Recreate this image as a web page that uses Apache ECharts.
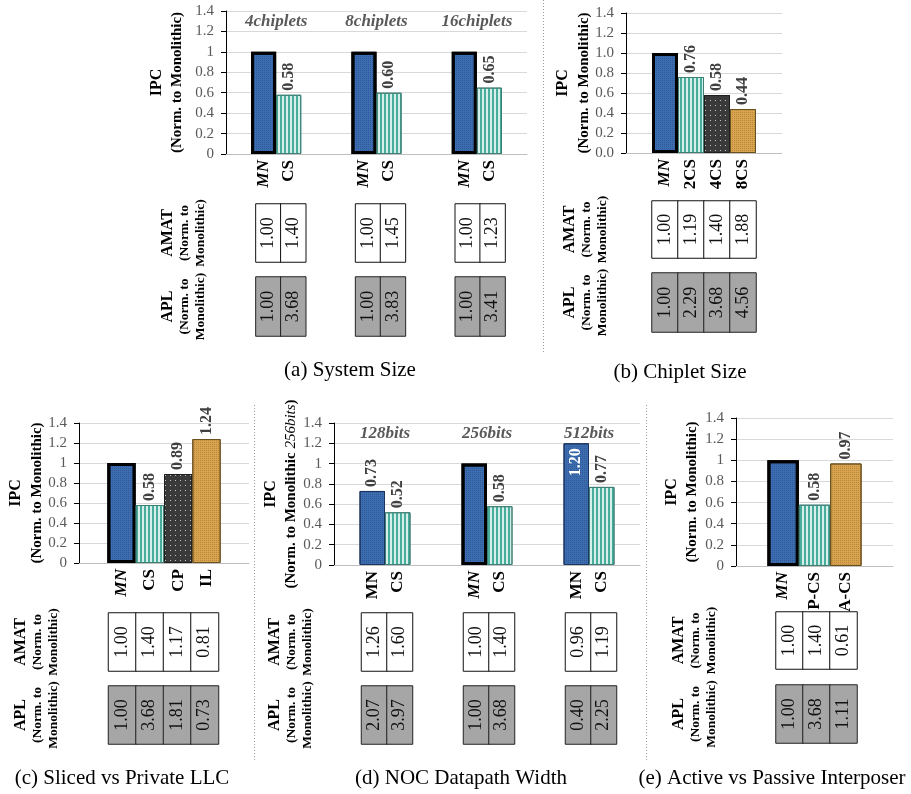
<!DOCTYPE html>
<html><head><meta charset="utf-8">
<script src="https://cdn.jsdelivr.net/npm/echarts@6/dist/echarts.min.js"></script>
<style>html,body{margin:0;padding:0;background:#fff}#c{width:911px;height:794px}</style>
</head><body><div id="c"></div>
<script>
const FONT = '"Liberation Serif","Times New Roman",serif';

// ---------------- data ----------------
const yMin = 0, yMax = 1.4, yStep = 0.2;

const aGroups = ['4chiplets', '8chiplets', '16chiplets'];
const aBars = ['MN', 'CS'];
const aIPC  = [[1.00, 0.58], [1.00, 0.60], [1.00, 0.65]];
const aAMAT = [[1.00, 1.40], [1.00, 1.45], [1.00, 1.23]];
const aAPL  = [[1.00, 3.68], [1.00, 3.83], [1.00, 3.41]];

const bGroups = [''];
const bBars = ['MN', '2CS', '4CS', '8CS'];
const bIPC  = [[1.00, 0.76, 0.58, 0.44]];
const bAMAT = [[1.00, 1.19, 1.40, 1.88]];
const bAPL  = [[1.00, 2.29, 3.68, 4.56]];

const cGroups = [''];
const cBars = ['MN', 'CS', 'CP', 'IL'];
const cIPC  = [[1.00, 0.58, 0.89, 1.24]];
const cAMAT = [[1.00, 1.40, 1.17, 0.81]];
const cAPL  = [[1.00, 3.68, 1.81, 0.73]];

const dGroups = ['128bits', '256bits', '512bits'];
const dBars = ['MN', 'CS'];
const dIPC  = [[0.73, 0.52], [1.00, 0.58], [1.20, 0.77]];
const dAMAT = [[1.26, 1.60], [1.00, 1.40], [0.96, 1.19]];
const dAPL  = [[2.07, 3.97], [1.00, 3.68], [0.40, 2.25]];

const eGroups = [''];
const eBars = ['MN', 'P-CS', 'A-CS'];
const eIPC  = [[1.00, 0.58, 0.97]];
const eAMAT = [[1.00, 1.40, 0.61]];
const eAPL  = [[1.00, 3.68, 1.11]];

// ---------------- styles ----------------
const KIND_OF = {'MN':'blue','CS':'teal','2CS':'teal','P-CS':'teal','CP':'dark','4CS':'dark','IL':'tan','8CS':'tan','A-CS':'tan'};
const KIND = {
  blue: {color:'#3b6db0', border:'#1b3560', decal:{symbol:'rect', symbolSize:1, dashArrayX:[1,1], dashArrayY:[1,1], color:'rgba(25,50,100,0.35)'}},
  teal: {color:'#d6efea', border:'#3f7f75', decal:{symbol:'rect', symbolSize:1, dashArrayX:[1.5,1.5], dashArrayY:[1,0], color:'rgba(55,165,145,0.9)'}},
  dark: {color:'#3a3a3a', border:'#1e1e1e', decal:{symbol:'rect', symbolSize:1, dashArrayX:[1,4], dashArrayY:[1,4], color:'rgba(255,255,255,0.7)'}},
  tan:  {color:'#d8a44f', border:'#6b5020', decal:{symbol:'rect', symbolSize:1, dashArrayX:[1,1], dashArrayY:[1,1], color:'rgba(140,95,25,0.4)'}}
};

const panels = [
  {groups:aGroups, bars:aBars, ipc:aIPC, amat:aAMAT, apl:aAPL, base:[[0,0],[1,0],[2,0]], inside:[],
   ipcGrid:{left:226, top:11, width:301, height:143}, yDec:0, ipcGap:38, ipcSub:'',
   amatGrid:{left:231, top:204, width:299, height:58}, aplGrid:{left:231, top:277, width:299, height:59}, tabGap:22,
   caption:'(a) System Size', capX:350, capY:370},
  {groups:bGroups, bars:bBars, ipc:bIPC, amat:bAMAT, apl:bAPL, base:[[0,0]], inside:[],
   ipcGrid:{left:626, top:13, width:156, height:140}, yDec:1, ipcGap:29, ipcSub:'',
   amatGrid:{left:626, top:201, width:156, height:57}, aplGrid:{left:626, top:273, width:156, height:59}, tabGap:15,
   caption:'(b) Chiplet Size', capX:680, capY:372},
  {groups:cGroups, bars:cBars, ipc:cIPC, amat:cAMAT, apl:cAPL, base:[[0,0]], inside:[],
   ipcGrid:{left:79, top:423, width:170, height:140}, yDec:0, ipcGap:28, ipcSub:'',
   amatGrid:{left:81, top:613, width:165, height:58}, aplGrid:{left:81, top:686, width:165, height:58}, tabGap:19,
   caption:'(c) Sliced vs Private LLC', capX:122, capY:778},
  {groups:dGroups, bars:dBars, ipc:dIPC, amat:dAMAT, apl:dAPL, base:[[1,0]], inside:[[2,0]],
   ipcGrid:{left:334, top:423, width:306, height:142}, yDec:0, ipcGap:32, ipcSub:'256bits',
   amatGrid:{left:336, top:613, width:306, height:58}, aplGrid:{left:336, top:686, width:306, height:58}, tabGap:20,
   caption:'(d) NOC Datapath Width', capX:461, capY:778},
  {groups:eGroups, bars:eBars, ipc:eIPC, amat:eAMAT, apl:eAPL, base:[[0,0]], inside:[],
   ipcGrid:{left:736, top:418, width:157, height:148}, yDec:0, ipcGap:33, ipcSub:'',
   amatGrid:{left:749, top:612, width:135, height:57}, aplGrid:{left:749, top:685, width:135, height:58}, tabGap:29,
   caption:'(e) Active vs Passive Interposer', capX:772, capY:778}
];

const option = {animation:false, backgroundColor:'#fff', grid:[], xAxis:[], yAxis:[], series:[], graphic:[]};

const has = (list, gi, bi) => list.some(p => p[0] === gi && p[1] === bi);
const fmt2 = p => Number(Array.isArray(p.value) ? p.value[2] : p.value).toFixed(2);

function barLabel(isBase, isInside) {
  const common = {rotate:90, verticalAlign:'middle', fontFamily:FONT, fontWeight:'bold', fontSize:16, formatter:fmt2};
  if (isBase) return {show:false};
  if (isInside) return Object.assign({show:true, position:'insideTop', align:'right', distance:5, color:'#fff'}, common);
  return Object.assign({show:true, position:'top', align:'left', distance:4, color:'#404040'}, common);
}

function tableName(title) {
  return {
    name:'{a|' + title + '}\n{b|(Norm. to}\n{b|Monolithic)}',
    rich:{a:{fontFamily:FONT, fontWeight:'bold', fontSize:16, lineHeight:18, color:'#000'},
          b:{fontFamily:FONT, fontWeight:'bold', fontSize:13.5, lineHeight:16, color:'#000'}}
  };
}

panels.forEach(P => {
  const cats = [], ipcData = [], amatData = [], aplData = [];
  let s = 0;
  P.groups.forEach((g, gi) => {
    cats.push({value:''}); ipcData.push('-'); s++;
    P.bars.forEach((b, bi) => {
      const isBase = has(P.base, gi, bi);
      const isInside = has(P.inside, gi, bi);
      const K = KIND[KIND_OF[b]];
      cats.push({value:b, textStyle:{fontStyle:isBase ? 'italic' : 'normal'}});
      ipcData.push({
        value:P.ipc[gi][bi],
        itemStyle:{color:K.color, borderColor:isBase ? '#000' : K.border, borderWidth:isBase ? 3 : 1, decal:K.decal},
        label:barLabel(isBase, isInside)
      });
      amatData.push([s, 0, P.amat[gi][bi]]);
      aplData.push([s, 0, P.apl[gi][bi]]);
      s++;
    });
    cats.push({value:''}); ipcData.push('-'); s++;
  });

  const g0 = option.grid.length;
  option.grid.push(Object.assign({outerBoundsMode:'none', containLabel:false}, P.ipcGrid));
  option.grid.push(Object.assign({outerBoundsMode:'none', containLabel:false}, P.amatGrid));
  option.grid.push(Object.assign({outerBoundsMode:'none', containLabel:false}, P.aplGrid));

  const x0 = option.xAxis.length;
  option.xAxis.push({
    type:'category', gridIndex:g0, data:cats, boundaryGap:true,
    axisLine:{show:true, lineStyle:{color:'#bfbfbf', width:1}},
    axisTick:{show:false}, splitLine:{show:false},
    axisLabel:{interval:0, rotate:90, margin:6, fontFamily:FONT, fontWeight:'bold', fontSize:17, color:'#000'}
  });
  option.xAxis.push({
    type:'category', gridIndex:g0 + 1, data:cats, show:true,
    axisLine:{show:false}, axisTick:{show:false}, axisLabel:{show:false}, splitLine:{show:false}
  });
  option.xAxis.push({
    type:'category', gridIndex:g0 + 2, data:cats, show:true,
    axisLine:{show:false}, axisTick:{show:false}, axisLabel:{show:false}, splitLine:{show:false}
  });
  if (P.groups.length > 1) {
    option.xAxis.push({
      type:'category', gridIndex:g0, data:P.groups, position:'top',
      axisLine:{show:false}, axisTick:{show:false}, splitLine:{show:false},
      axisLabel:{inside:true, margin:2, interval:0, fontFamily:FONT, fontWeight:'bold', fontStyle:'italic', fontSize:17, color:'#595959'}
    });
  }

  const y0 = option.yAxis.length;
  const ipcName = P.ipcSub
    ? '{a|IPC}\n{b|(Norm. to Monolithic }{c|' + P.ipcSub + '}{b|)}'
    : '{a|IPC}\n{b|(Norm. to Monolithic)}';
  option.yAxis.push({
    type:'value', gridIndex:g0, min:yMin, max:yMax, interval:yStep,
    axisLine:{show:true, lineStyle:{color:'#000', width:1}},
    axisTick:{show:true, length:5, inside:false, lineStyle:{color:'#000'}},
    splitLine:{show:true, lineStyle:{color:'#d9d9d9', width:1}},
    axisLabel:{margin:12, fontFamily:FONT, fontSize:15, color:'#595959',
               formatter: v => P.yDec ? v.toFixed(P.yDec) : String(Math.round(v * 10) / 10)},
    name:ipcName, nameLocation:'middle', nameRotate:90, nameGap:P.ipcGap,
    nameTextStyle:{rich:{
      a:{fontFamily:FONT, fontWeight:'bold', fontSize:16, lineHeight:21, color:'#000'},
      b:{fontFamily:FONT, fontWeight:'bold', fontSize:15, lineHeight:21, color:'#000'},
      c:{fontFamily:FONT, fontStyle:'italic', fontSize:15, lineHeight:21, color:'#000'}}}
  });
  const tA = tableName('AMAT'), tP = tableName('APL');
  option.yAxis.push({
    type:'category', gridIndex:g0 + 1, data:['AMAT'], show:true,
    axisLine:{show:false}, axisTick:{show:false}, axisLabel:{show:false}, splitLine:{show:false},
    name:tA.name, nameLocation:'middle', nameRotate:90, nameGap:P.tabGap, nameTextStyle:{rich:tA.rich}
  });
  option.yAxis.push({
    type:'category', gridIndex:g0 + 2, data:['APL'], show:true,
    axisLine:{show:false}, axisTick:{show:false}, axisLabel:{show:false}, splitLine:{show:false},
    name:tP.name, nameLocation:'middle', nameRotate:90, nameGap:P.tabGap, nameTextStyle:{rich:tP.rich}
  });

  option.series.push({
    type:'bar', xAxisIndex:x0, yAxisIndex:y0, data:ipcData, barWidth:'100%', barGap:'0%', barCategoryGap:'0%'
  });
  const cellLabel = {show:true, rotate:90, align:'center', verticalAlign:'middle', fontFamily:FONT, fontSize:18, color:'#111', formatter:fmt2};
  option.series.push({
    type:'heatmap', xAxisIndex:x0 + 1, yAxisIndex:y0 + 1, data:amatData,
    itemStyle:{color:'#ffffff', borderColor:'#111', borderWidth:1}, label:cellLabel, emphasis:{disabled:true}
  });
  option.series.push({
    type:'heatmap', xAxisIndex:x0 + 2, yAxisIndex:y0 + 2, data:aplData,
    itemStyle:{color:'#a6a6a6', borderColor:'#222', borderWidth:1}, label:cellLabel, emphasis:{disabled:true}
  });

  option.graphic.push({type:'text', x:P.capX, y:P.capY,
    style:{text:P.caption, font:'21px ' + FONT, fill:'#000', align:'center', verticalAlign:'middle', textAlign:'center', textVerticalAlign:'middle'}});
});

const sep = (x, y1, y2) => ({type:'line', shape:{x1:x, y1:y1, x2:x, y2:y2}, style:{stroke:'#9a9a9a', lineWidth:1, lineDash:[1,2]}});
option.graphic.push(sep(543.5, 0, 352), sep(254.5, 405, 760), sep(646.5, 405, 760));

const chart = echarts.init(document.getElementById('c'), null, {renderer:'canvas'});
chart.setOption(option);
</script></body></html>
